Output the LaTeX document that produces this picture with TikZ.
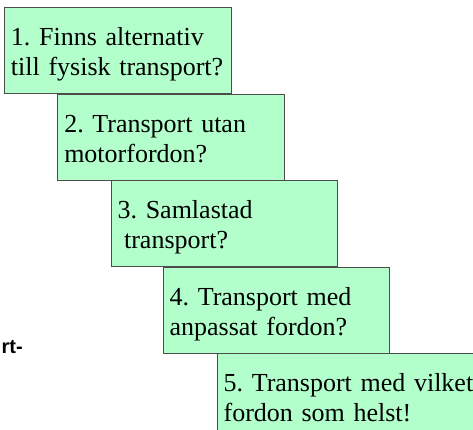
\documentclass[tikz,border=0pt]{standalone}
\usepackage{fontspec}
\setmainfont{Liberation Serif}
\newfontfamily\cutfont{Liberation Sans}
\usetikzlibrary{positioning}

\definecolor{boxgreen}{RGB}{179,255,204}
\frenchspacing

\begin{document}
\begin{tikzpicture}[
  x=0.75pt, y=-0.75pt,
  qbox/.style={rectangle, draw=black!70, fill=boxgreen, align=left, font=\fontsize{19.5}{22.5}\selectfont, text width=160pt, text height=18pt, text depth=25pt, inner xsep=5pt, inner ysep=2pt, minimum height=64.5pt},
  lastbox/.style={qbox, text width=220pt},
  cutlabel/.style={font=\cutfont\bfseries\fontsize{15}{17}\selectfont, inner sep=0pt}
]
\useasboundingbox (0,0) rectangle (473,429);
\clip (0,0) rectangle (473,429);

% Staircase of questions
\node[qbox, anchor=north west] (q1) at (4,7) {1. Finns alternativ\\till fysisk transport?};
\node[qbox, below right=0pt and 40pt of q1.south west] (q2) {2. Transport utan\\motorfordon?};
\node[qbox, below right=0pt and 40pt of q2.south west] (q3) {3. Samlastad\\\hspace*{0.25em}transport?};
\node[qbox, below right=0pt and 39pt of q3.south west] (q4) {4. Transport med\\anpassat fordon?};
\node[lastbox, below right=0pt and 40.5pt of q4.south west] (q5) {5. Transport med vilket\\fordon som helst!};

% Cut-off text at the left edge
\node[cutlabel, anchor=base east] (cut) at (23,353) {rt-};

\end{tikzpicture}
\end{document}
